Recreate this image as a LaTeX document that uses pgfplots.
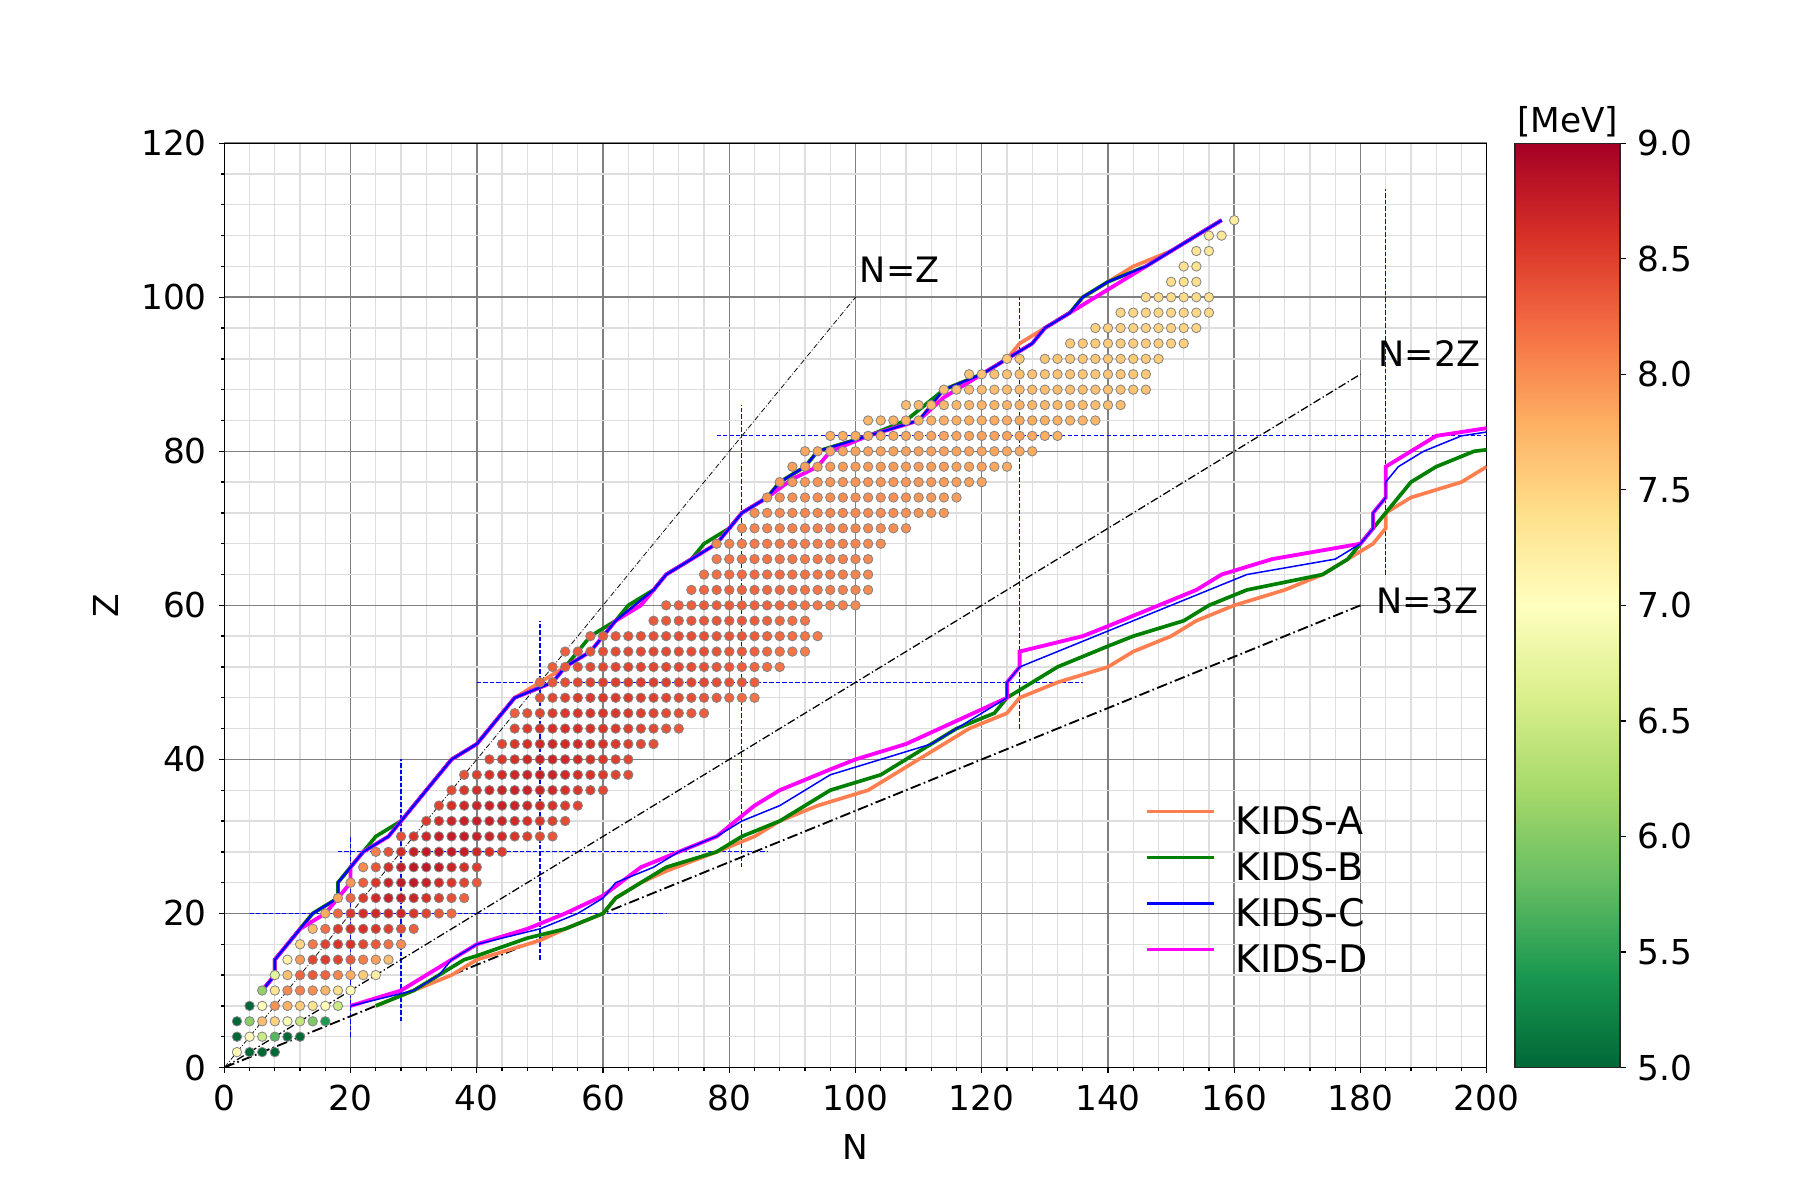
\documentclass[border=0pt]{standalone}
\usepackage{fontspec}
\setmainfont{DejaVu Sans}
\usepackage{pgfplots}
\pgfplotsset{compat=1.18}
\definecolor{kidsA}{RGB}{255,127,80}
\definecolor{kidsB}{RGB}{0,128,0}
\definecolor{kidsC}{RGB}{0,0,255}
\definecolor{kidsD}{RGB}{255,0,255}
\pgfplotstableset{row sep=\\}
\begin{document}
\begin{tikzpicture}
\useasboundingbox (0,0) rectangle (540pt,360pt);
\begin{axis}[
  at={(67.3pt,39.75pt)}, anchor=south west,
  scale only axis, width=378.7pt, height=277.3pt,
  xmin=0, xmax=200, ymin=0, ymax=120,
  xtick={0,20,...,200}, ytick={0,20,...,120},
  minor x tick num=4, minor y tick num=4,
  grid=both,
  major grid style={draw=black!50, line width=0.45pt},
  minor grid style={draw=black!13, line width=0.4pt},
  tick align=outside, tick pos=left,
  major tick length=1.75pt, minor tick length=1pt,
  every tick/.style={black, line width=0.4pt},
  axis line style={line width=0.4pt},
  tick label style={font=\fontsize{10.3}{12}\selectfont},
  /pgf/number format/assume math mode=true,
  xlabel={N}, ylabel={Z},
  label style={font=\fontsize{10.3}{12}\selectfont},
  colormap={rdylgnr}{rgb255=(0,104,55) rgb255=(26,152,80) rgb255=(102,189,99) rgb255=(166,217,106) rgb255=(217,239,139) rgb255=(255,255,191) rgb255=(254,224,139) rgb255=(253,174,97) rgb255=(244,109,67) rgb255=(215,48,39) rgb255=(165,0,38)},
  point meta min=5, point meta max=9,
  colorbar,
  colorbar/width=31.5pt,
  colorbar style={
    at={([xshift=8.5pt]parent axis.north east)}, anchor=north west,
    scale only axis, width=31.5pt, height=277.3pt,
    ytick={5,5.5,6,6.5,7,7.5,8,8.5,9},
    ytick pos=right, yticklabel pos=right,
    tick align=outside, major tick length=1.75pt,
    every tick/.style={black, line width=0.4pt},
    axis line style={line width=0.4pt, draw=black!85},
    yticklabel style={font=\fontsize{10.3}{12}\selectfont, /pgf/number format/.cd, fixed, fixed zerofill, precision=1, assume math mode=true},
    title={[MeV]}, title style={font=\fontsize{10.3}{12}\selectfont, inner sep=0pt, yshift=-4.5pt},
  },
  legend style={at={(axis cs:145.9,33.85)}, anchor=north west, draw=none, fill=none, inner sep=0pt, outer sep=0pt,
    font=\fontsize{11.4}{13}\selectfont, row sep=3.3pt, column sep=0pt,
    nodes={inner sep=0pt, text height=8.3pt, text depth=2.2pt}},
  legend cell align=left,
  legend image code/.code={\draw[#1] (0pt,3.8pt) -- (20pt,3.8pt); \path[draw=none] (0pt,3.8pt) -- (26.5pt,3.8pt);},
]
% ---- nuclei (even N, even Z), colour = binding energy per nucleon [MeV]
\addplot[scatter, only marks, mark=*, mark size=1.42pt, forget plot, point meta=explicit,
  scatter/use mapped color={draw=black!48, fill=mapped color},
  mark options={line width=0.25pt}]
  table[x=N, y=Z, meta=B] {
N Z B\\
2 2 7.07\\ 4 2 5.0\\ 6 2 5.0\\ 8 2 5.0\\
2 4 5.0\\ 4 4 7.06\\ 6 4 6.50\\ 8 4 5.72\\ 10 4 5.0\\ 12 4 5.0\\
2 6 5.0\\ 4 6 6.03\\ 6 6 7.68\\ 8 6 7.52\\ 10 6 6.92\\ 12 6 6.43\\ 14 6 5.96\\ 16 6 5.42\\
4 8 5.0\\ 6 8 7.05\\ 8 8 7.98\\ 10 8 7.77\\ 12 8 7.57\\ 14 8 7.36\\ 16 8 7.04\\ 18 8 6.50\\
6 10 6.08\\ 8 10 7.34\\ 10 10 8.03\\ 12 10 8.08\\ 14 10 7.99\\ 16 10 7.75\\ 18 10 7.39\\ 20 10 7.04\\
8 12 6.73\\ 10 12 7.66\\ 12 12 8.26\\ 14 12 8.33\\ 16 12 8.27\\ 18 12 8.05\\ 20 12 7.80\\ 22 12 7.55\\ 24 12 7.22\\
10 14 7.17\\ 12 14 7.92\\ 14 14 8.45\\ 16 14 8.52\\ 18 14 8.48\\ 20 14 8.34\\ 22 14 8.10\\ 24 14 7.89\\ 26 14 7.66\\
12 16 7.48\\ 14 16 8.12\\ 16 16 8.49\\ 18 16 8.58\\ 20 16 8.58\\ 22 16 8.45\\ 24 16 8.33\\ 26 16 8.19\\ 28 16 8.02\\
14 18 7.70\\ 16 18 8.20\\ 18 18 8.52\\ 20 18 8.61\\ 22 18 8.60\\ 24 18 8.56\\ 26 18 8.49\\ 28 18 8.41\\ 30 18 8.30\\
16 20 7.82\\ 18 20 8.24\\ 20 20 8.55\\ 22 20 8.62\\ 24 20 8.66\\ 26 20 8.67\\ 28 20 8.67\\ 30 20 8.55\\ 32 20 8.47\\ 34 20 8.34\\ 36 20 8.23\\
18 22 7.86\\ 20 22 8.26\\ 22 22 8.53\\ 24 22 8.66\\ 26 22 8.72\\ 28 22 8.76\\ 30 22 8.69\\ 32 22 8.60\\ 34 22 8.50\\ 36 22 8.39\\ 38 22 8.27\\
20 24 7.95\\ 22 24 8.30\\ 24 24 8.57\\ 26 24 8.70\\ 28 24 8.78\\ 30 24 8.78\\ 32 24 8.72\\ 34 24 8.64\\ 36 24 8.55\\ 38 24 8.46\\ 40 24 8.34\\
22 26 8.02\\ 24 26 8.35\\ 26 26 8.61\\ 28 26 8.74\\ 30 26 8.79\\ 32 26 8.79\\ 34 26 8.76\\ 36 26 8.69\\ 38 26 8.61\\ 40 26 8.52\\
24 28 8.08\\ 26 28 8.39\\ 28 28 8.64\\ 30 28 8.73\\ 32 28 8.78\\ 34 28 8.79\\ 36 28 8.78\\ 38 28 8.74\\ 40 28 8.68\\ 42 28 8.60\\ 44 28 8.52\\
28 30 8.40\\ 30 30 8.58\\ 32 30 8.68\\ 34 30 8.74\\ 36 30 8.76\\ 38 30 8.76\\ 40 30 8.73\\ 42 30 8.69\\ 44 30 8.64\\ 46 30 8.57\\ 48 30 8.50\\ 50 30 8.43\\ 52 30 8.35\\
32 32 8.53\\ 34 32 8.63\\ 36 32 8.69\\ 38 32 8.73\\ 40 32 8.74\\ 42 32 8.73\\ 44 32 8.70\\ 46 32 8.66\\ 48 32 8.61\\ 50 32 8.56\\ 52 32 8.49\\ 54 32 8.42\\
34 34 8.48\\ 36 34 8.60\\ 38 34 8.67\\ 40 34 8.70\\ 42 34 8.72\\ 44 34 8.72\\ 46 34 8.70\\ 48 34 8.68\\ 50 34 8.64\\ 52 34 8.59\\ 54 34 8.53\\ 56 34 8.47\\
36 36 8.43\\ 38 36 8.56\\ 40 36 8.63\\ 42 36 8.68\\ 44 36 8.70\\ 46 36 8.71\\ 48 36 8.71\\ 50 36 8.70\\ 52 36 8.66\\ 54 36 8.61\\ 56 36 8.56\\ 58 36 8.51\\ 60 36 8.45\\
38 38 8.38\\ 40 38 8.50\\ 42 38 8.59\\ 44 38 8.65\\ 46 38 8.68\\ 48 38 8.70\\ 50 38 8.73\\ 52 38 8.70\\ 54 38 8.66\\ 56 38 8.62\\ 58 38 8.58\\ 60 38 8.53\\ 62 38 8.48\\ 64 38 8.43\\
42 40 8.48\\ 44 40 8.56\\ 46 40 8.62\\ 48 40 8.67\\ 50 40 8.71\\ 52 40 8.69\\ 54 40 8.67\\ 56 40 8.64\\ 58 40 8.60\\ 60 40 8.56\\ 62 40 8.51\\ 64 40 8.46\\
44 42 8.48\\ 46 42 8.56\\ 48 42 8.61\\ 50 42 8.66\\ 52 42 8.66\\ 54 42 8.65\\ 56 42 8.64\\ 58 42 8.61\\ 60 42 8.58\\ 62 42 8.54\\ 64 42 8.50\\ 66 42 8.45\\ 68 42 8.40\\
46 44 8.47\\ 48 44 8.54\\ 50 44 8.60\\ 52 44 8.61\\ 54 44 8.61\\ 56 44 8.60\\ 58 44 8.59\\ 60 44 8.57\\ 62 44 8.54\\ 64 44 8.51\\ 66 44 8.47\\ 68 44 8.43\\ 70 44 8.38\\ 72 44 8.33\\
46 46 8.30\\ 48 46 8.40\\ 50 46 8.47\\ 52 46 8.52\\ 54 46 8.55\\ 56 46 8.57\\ 58 46 8.57\\ 60 46 8.56\\ 62 46 8.55\\ 64 46 8.53\\ 66 46 8.50\\ 68 46 8.47\\ 70 46 8.43\\ 72 46 8.39\\ 74 46 8.35\\ 76 46 8.30\\
50 48 8.39\\ 52 48 8.45\\ 54 48 8.49\\ 56 48 8.52\\ 58 48 8.54\\ 60 48 8.54\\ 62 48 8.54\\ 64 48 8.53\\ 66 48 8.51\\ 68 48 8.49\\ 70 48 8.46\\ 72 48 8.43\\ 74 48 8.40\\ 76 48 8.36\\ 78 48 8.32\\ 80 48 8.27\\ 82 48 8.22\\ 84 48 8.15\\
50 50 8.25\\ 52 50 8.35\\ 54 50 8.41\\ 56 50 8.46\\ 58 50 8.49\\ 60 50 8.50\\ 62 50 8.51\\ 64 50 8.51\\ 66 50 8.51\\ 68 50 8.50\\ 70 50 8.50\\ 72 50 8.48\\ 74 50 8.47\\ 76 50 8.44\\ 78 50 8.41\\ 80 50 8.38\\ 82 50 8.36\\ 84 50 8.30\\
52 52 8.30\\ 54 52 8.36\\ 56 52 8.40\\ 58 52 8.43\\ 60 52 8.45\\ 62 52 8.46\\ 64 52 8.47\\ 66 52 8.47\\ 68 52 8.46\\ 70 52 8.45\\ 72 52 8.43\\ 74 52 8.41\\ 76 52 8.39\\ 78 52 8.36\\ 80 52 8.33\\ 82 52 8.30\\ 84 52 8.25\\ 86 52 8.20\\ 88 52 8.15\\
54 54 8.29\\ 56 54 8.34\\ 58 54 8.37\\ 60 54 8.40\\ 62 54 8.42\\ 64 54 8.43\\ 66 54 8.44\\ 68 54 8.44\\ 70 54 8.43\\ 72 54 8.42\\ 74 54 8.41\\ 76 54 8.39\\ 78 54 8.37\\ 80 54 8.34\\ 82 54 8.32\\ 84 54 8.28\\ 86 54 8.23\\ 88 54 8.19\\ 90 54 8.15\\ 92 54 8.10\\
58 56 8.30\\ 60 56 8.34\\ 62 56 8.36\\ 64 56 8.38\\ 66 56 8.39\\ 68 56 8.40\\ 70 56 8.40\\ 72 56 8.40\\ 74 56 8.39\\ 76 56 8.38\\ 78 56 8.37\\ 80 56 8.36\\ 82 56 8.35\\ 84 56 8.31\\ 86 56 8.27\\ 88 56 8.23\\ 90 56 8.19\\ 92 56 8.15\\ 94 56 8.11\\
68 58 8.33\\ 70 58 8.34\\ 72 58 8.35\\ 74 58 8.35\\ 76 58 8.35\\ 78 58 8.35\\ 80 58 8.35\\ 82 58 8.34\\ 84 58 8.31\\ 86 58 8.28\\ 88 58 8.24\\ 90 58 8.20\\ 92 58 8.16\\
70 60 8.27\\ 72 60 8.29\\ 74 60 8.30\\ 76 60 8.31\\ 78 60 8.31\\ 80 60 8.31\\ 82 60 8.30\\ 84 60 8.28\\ 86 60 8.26\\ 88 60 8.23\\ 90 60 8.20\\ 92 60 8.17\\ 94 60 8.14\\ 96 60 8.10\\ 98 60 8.07\\ 100 60 8.03\\
74 62 8.23\\ 76 62 8.25\\ 78 62 8.26\\ 80 62 8.27\\ 82 62 8.27\\ 84 62 8.26\\ 86 62 8.24\\ 88 62 8.22\\ 90 62 8.20\\ 92 62 8.17\\ 94 62 8.14\\ 96 62 8.11\\ 98 62 8.08\\ 100 62 8.05\\ 102 62 8.01\\
76 64 8.18\\ 78 64 8.20\\ 80 64 8.21\\ 82 64 8.22\\ 84 64 8.22\\ 86 64 8.21\\ 88 64 8.20\\ 90 64 8.18\\ 92 64 8.16\\ 94 64 8.14\\ 96 64 8.12\\ 98 64 8.09\\ 100 64 8.06\\ 102 64 8.03\\
78 66 8.13\\ 80 66 8.15\\ 82 66 8.17\\ 84 66 8.17\\ 86 66 8.17\\ 88 66 8.16\\ 90 66 8.15\\ 92 66 8.13\\ 94 66 8.12\\ 96 66 8.10\\ 98 66 8.08\\ 100 66 8.06\\ 102 66 8.03\\
78 68 8.05\\ 80 68 8.08\\ 82 68 8.10\\ 84 68 8.12\\ 86 68 8.12\\ 88 68 8.12\\ 90 68 8.12\\ 92 68 8.11\\ 94 68 8.10\\ 96 68 8.09\\ 98 68 8.07\\ 100 68 8.05\\ 102 68 8.03\\ 104 68 8.00\\
82 70 8.04\\ 84 70 8.06\\ 86 70 8.07\\ 88 70 8.08\\ 90 70 8.08\\ 92 70 8.08\\ 94 70 8.07\\ 96 70 8.07\\ 98 70 8.06\\ 100 70 8.05\\ 102 70 8.03\\ 104 70 8.02\\ 106 70 8.00\\ 108 70 7.98\\
84 72 8.00\\ 86 72 8.02\\ 88 72 8.03\\ 90 72 8.04\\ 92 72 8.04\\ 94 72 8.04\\ 96 72 8.04\\ 98 72 8.03\\ 100 72 8.03\\ 102 72 8.02\\ 104 72 8.01\\ 106 72 8.00\\ 108 72 7.98\\ 110 72 7.97\\ 112 72 7.95\\ 114 72 7.93\\
86 74 7.96\\ 88 74 7.98\\ 90 74 7.99\\ 92 74 8.00\\ 94 74 8.00\\ 96 74 8.00\\ 98 74 8.00\\ 100 74 8.00\\ 102 74 7.99\\ 104 74 7.99\\ 106 74 7.98\\ 108 74 7.97\\ 110 74 7.95\\ 112 74 7.94\\ 114 74 7.92\\ 116 74 7.90\\
88 76 7.92\\ 90 76 7.94\\ 92 76 7.95\\ 94 76 7.96\\ 96 76 7.96\\ 98 76 7.96\\ 100 76 7.96\\ 102 76 7.96\\ 104 76 7.96\\ 106 76 7.95\\ 108 76 7.95\\ 110 76 7.94\\ 112 76 7.93\\ 114 76 7.91\\ 116 76 7.90\\ 118 76 7.88\\ 120 76 7.86\\
90 78 7.88\\ 92 78 7.90\\ 94 78 7.91\\ 96 78 7.92\\ 98 78 7.92\\ 100 78 7.92\\ 102 78 7.92\\ 104 78 7.92\\ 106 78 7.92\\ 108 78 7.91\\ 110 78 7.91\\ 112 78 7.90\\ 114 78 7.90\\ 116 78 7.88\\ 118 78 7.87\\ 120 78 7.86\\ 122 78 7.84\\ 124 78 7.82\\
92 80 7.84\\ 94 80 7.85\\ 96 80 7.86\\ 98 80 7.87\\ 100 80 7.88\\ 102 80 7.88\\ 104 80 7.88\\ 106 80 7.88\\ 108 80 7.88\\ 110 80 7.88\\ 112 80 7.88\\ 114 80 7.88\\ 116 80 7.87\\ 118 80 7.87\\ 120 80 7.86\\ 122 80 7.85\\ 124 80 7.84\\ 126 80 7.83\\ 128 80 7.80\\
96 82 7.80\\ 98 82 7.81\\ 100 82 7.82\\ 102 82 7.83\\ 104 82 7.84\\ 106 82 7.84\\ 108 82 7.85\\ 110 82 7.85\\ 112 82 7.86\\ 114 82 7.86\\ 116 82 7.86\\ 118 82 7.86\\ 120 82 7.87\\ 122 82 7.87\\ 124 82 7.87\\ 126 82 7.87\\ 128 82 7.83\\ 130 82 7.80\\ 132 82 7.77\\
102 84 7.74\\ 104 84 7.75\\ 106 84 7.76\\ 108 84 7.77\\ 110 84 7.78\\ 112 84 7.79\\ 114 84 7.80\\ 116 84 7.80\\ 118 84 7.81\\ 120 84 7.81\\ 122 84 7.82\\ 124 84 7.82\\ 126 84 7.83\\ 128 84 7.81\\ 130 84 7.79\\ 132 84 7.78\\ 134 84 7.76\\ 136 84 7.75\\ 138 84 7.73\\
108 86 7.70\\ 110 86 7.71\\ 112 86 7.72\\ 114 86 7.73\\ 116 86 7.74\\ 118 86 7.74\\ 120 86 7.75\\ 122 86 7.75\\ 124 86 7.76\\ 126 86 7.76\\ 128 86 7.74\\ 130 86 7.73\\ 132 86 7.72\\ 134 86 7.71\\ 136 86 7.70\\ 138 86 7.69\\ 140 86 7.68\\ 142 86 7.67\\
114 88 7.66\\ 116 88 7.67\\ 118 88 7.68\\ 120 88 7.69\\ 122 88 7.69\\ 124 88 7.70\\ 126 88 7.70\\ 128 88 7.69\\ 130 88 7.68\\ 132 88 7.68\\ 134 88 7.67\\ 136 88 7.67\\ 138 88 7.66\\ 140 88 7.66\\ 142 88 7.65\\ 144 88 7.64\\ 146 88 7.63\\
118 90 7.63\\ 120 90 7.64\\ 122 90 7.65\\ 124 90 7.65\\ 126 90 7.66\\ 128 90 7.65\\ 130 90 7.64\\ 132 90 7.63\\ 134 90 7.63\\ 136 90 7.62\\ 138 90 7.62\\ 140 90 7.62\\ 142 90 7.61\\ 144 90 7.60\\ 146 90 7.59\\
124 92 7.60\\ 126 92 7.61\\ 130 92 7.62\\ 132 92 7.62\\ 134 92 7.61\\ 136 92 7.61\\ 138 92 7.60\\ 140 92 7.60\\ 142 92 7.59\\ 144 92 7.58\\ 146 92 7.57\\ 148 92 7.56\\
134 94 7.58\\ 136 94 7.58\\ 138 94 7.57\\ 140 94 7.57\\ 142 94 7.57\\ 144 94 7.56\\ 146 94 7.56\\ 148 94 7.55\\ 150 94 7.54\\ 152 94 7.53\\
138 96 7.53\\ 140 96 7.53\\ 142 96 7.53\\ 144 96 7.52\\ 146 96 7.52\\ 148 96 7.51\\ 150 96 7.51\\ 152 96 7.50\\ 154 96 7.49\\
142 98 7.49\\ 144 98 7.49\\ 146 98 7.48\\ 148 98 7.48\\ 150 98 7.47\\ 152 98 7.47\\ 154 98 7.46\\ 156 98 7.45\\
146 100 7.45\\ 148 100 7.45\\ 150 100 7.44\\ 152 100 7.44\\ 154 100 7.43\\ 156 100 7.42\\
150 102 7.41\\ 152 102 7.40\\ 154 102 7.40\\
152 104 7.37\\ 154 104 7.36\\
154 106 7.33\\ 156 106 7.32\\
156 108 7.29\\ 158 108 7.28\\
160 110 7.25\\
};
% ---- magic numbers
\addplot[kidsC, line width=0.35pt, dash pattern=on 1.3pt off 0.65pt, forget plot] coordinates {(20,4) (20,30)};
\addplot[kidsC, line width=0.35pt, dash pattern=on 1.3pt off 0.65pt, forget plot] coordinates {(28,6) (28,40)};
\addplot[kidsC, line width=0.35pt, dash pattern=on 1.3pt off 0.65pt, forget plot] coordinates {(50,14) (50,58)};
\addplot[kidsC, line width=0.35pt, dash pattern=on 1.3pt off 0.65pt, forget plot] coordinates {(82,26) (82,86)};
\addplot[kidsC, line width=0.35pt, dash pattern=on 1.3pt off 0.65pt, forget plot] coordinates {(126,44) (126,100)};
\addplot[kidsC, line width=0.35pt, dash pattern=on 1.3pt off 0.65pt, forget plot] coordinates {(184,64) (184,114)};
\addplot[kidsC, line width=0.35pt, dash pattern=on 1.3pt off 0.65pt, forget plot] coordinates {(4,20) (70,20)};
\addplot[kidsC, line width=0.35pt, dash pattern=on 1.3pt off 0.65pt, forget plot] coordinates {(18,28) (86,28)};
\addplot[kidsC, line width=0.35pt, dash pattern=on 1.3pt off 0.65pt, forget plot] coordinates {(40,50) (136,50)};
\addplot[kidsC, line width=0.35pt, dash pattern=on 1.3pt off 0.65pt, forget plot] coordinates {(78,82) (200,82)};
% ---- N=Z, N=2Z, N=3Z
\addplot[black, line width=0.22pt, dash pattern=on 1.6pt off 0.6pt on 0.3pt off 0.6pt, forget plot] coordinates {(0,0) (100,100)};
\addplot[black, line width=0.38pt, dash pattern=on 2.4pt off 0.8pt on 0.4pt off 0.8pt, forget plot] coordinates {(0,0) (180,90)};
\addplot[black, line width=0.55pt, dash pattern=on 3.2pt off 1pt on 0.5pt off 1pt, forget plot] coordinates {(0,0) (180,60)};
% ---- KIDS-A
\addplot[kidsA, line width=1.1pt, forget plot] coordinates {(6,10) (8,12) (8,14) (12,18) (14,20) (18,22) (18,24) (20,26) (22,28) (26,30) (28,32) (36,40) (40,42) (46,48) (50,50) (54,52) (58,54) (62,58) (68,62) (70,64) (74,66) (78,68) (82,72) (86,74) (88,76) (92,78) (94,80) (102,82) (110,84) (114,88) (120,90) (124,92) (126,94) (130,96) (134,98) (136,100) (140,102) (144,104) (150,106) (158,110)};
\addplot[kidsA, line width=1.1pt, forget plot] coordinates {(24,8) (30,10) (36,12) (40,14) (50,16.5) (54,18) (60,20) (62,22) (66,24) (70,25.5) (78,28) (84,30) (88,32) (94,34) (102,36) (110,40) (118,44) (124,46) (126,48) (132,50) (140,52) (144,54) (150,56) (154,58) (160,60) (168,62) (174,64) (178,66) (182,68) (184,70) (184,72) (188,74) (196,76) (200,78)};
% ---- KIDS-B
\addplot[kidsB, line width=1.1pt, forget plot] coordinates {(6,10) (8,12) (8,14) (12,18) (14,20) (18,22) (18,24) (20,26) (22,28) (24,30) (28,32) (36,40) (40,42) (46,48) (52,50) (54,52) (56,54) (58,56) (62,58) (64,60) (68,62) (70,64) (74,66) (76,68) (80,70) (82,72) (86,74) (88,76) (92,78) (94,80) (102,82) (108,84) (114,88) (120,90) (126,93) (128,94) (130,96) (134,98) (136,100) (140,102) (146,104) (158,110)};
\addplot[kidsB, line width=1.1pt, forget plot] coordinates {(24,8) (30,10) (36,13) (38,14) (40,14.5) (48,16.8) (54,18) (60,20) (62,22) (66,24) (70,26) (78,28) (82,30) (88,32) (96,36) (104,38) (108,40) (116,44) (122,46) (124,48) (132,52) (140,54.7) (144,56) (152,58) (156,60) (162,62) (174,64) (178,66) (180,68) (184,72) (188,76) (192,78) (198,80) (200,80.2)};
% ---- KIDS-D
\addplot[kidsD, line width=1.15pt, forget plot] coordinates {(6,10) (8,12) (8,14) (12,18) (16,20) (18,22) (20,24) (20,26) (22,28) (26,30) (28,32) (36,40) (40,42) (46,48) (52,50) (54,52) (58,54) (62,58) (66,60) (68,62) (70,64) (74,66) (78,68) (82,72) (86,74) (90,76.4) (94,78) (96,80) (102,82) (110,84) (114,87) (120,90) (126,93) (128,94) (130,96) (134,98) (140,101) (146,104) (158,110)};
\addplot[kidsD, line width=1.15pt, forget plot] coordinates {(20,8) (28,10) (36,14) (40,16) (48,18) (54,20) (60,22.3) (66,26) (72,28) (78,30) (84,34) (88,36) (96,38.7) (100,40) (108,42) (124,48) (124,50) (126,52) (126,54) (136,56) (140,57.3) (154,62) (158,64) (166,66) (180,68) (182,70) (182,72) (184,74) (184,78) (188,80) (192,82) (200,83)};
% ---- KIDS-C
\addplot[kidsC, line width=0.7pt, forget plot] coordinates {(6,10) (8,12) (8,14) (12,18) (14,20) (18,22) (18,24) (20,26) (22,28) (26,30) (28,32) (36,40) (40,42) (46,48) (52,50) (54,52) (58,54) (62,58) (68,62) (70,64) (74,66) (78,68) (82,72) (86,74) (88,76) (92,78) (94,80) (102,82) (110,84) (114,88) (120,90) (126,93) (128,94) (130,96) (134,98) (136,100) (140,102) (146,104) (158,110)};
\addplot[kidsC, line width=0.45pt, forget plot] coordinates {(20,8) (30,10) (34,12) (36,14) (40,16) (50,18) (56,20) (60,22) (62,24) (68,26) (72,28) (78,30) (82,32) (88,34) (96,38) (104,40) (112,42) (120,46) (124,48) (124,50) (126,52) (162,64) (176,66) (180,68) (182,70) (182,72) (184,74) (184,76) (186,78) (190,80) (196,82) (200,82.5)};
% ---- legend
\addlegendimage{kidsA, line width=1.1pt}
\addlegendentry{KIDS-A}
\addlegendimage{kidsB, line width=1.1pt}
\addlegendentry{KIDS-B}
\addlegendimage{kidsC, line width=1.1pt}
\addlegendentry{KIDS-C}
\addlegendimage{kidsD, line width=1.1pt}
\addlegendentry{KIDS-D}
% ---- annotations
\node[anchor=base west, inner sep=0pt, font=\fontsize{10.5}{12}\selectfont] at (axis cs:100.6,101.9) {N=Z};
\node[anchor=base west, inner sep=0pt, font=\fontsize{10.5}{12}\selectfont] at (axis cs:182.8,91.0) {N=2Z};
\node[anchor=base west, inner sep=0pt, font=\fontsize{10.5}{12}\selectfont] at (axis cs:182.4,59.0) {N=3Z};
\end{axis}
\end{tikzpicture}
\end{document}
